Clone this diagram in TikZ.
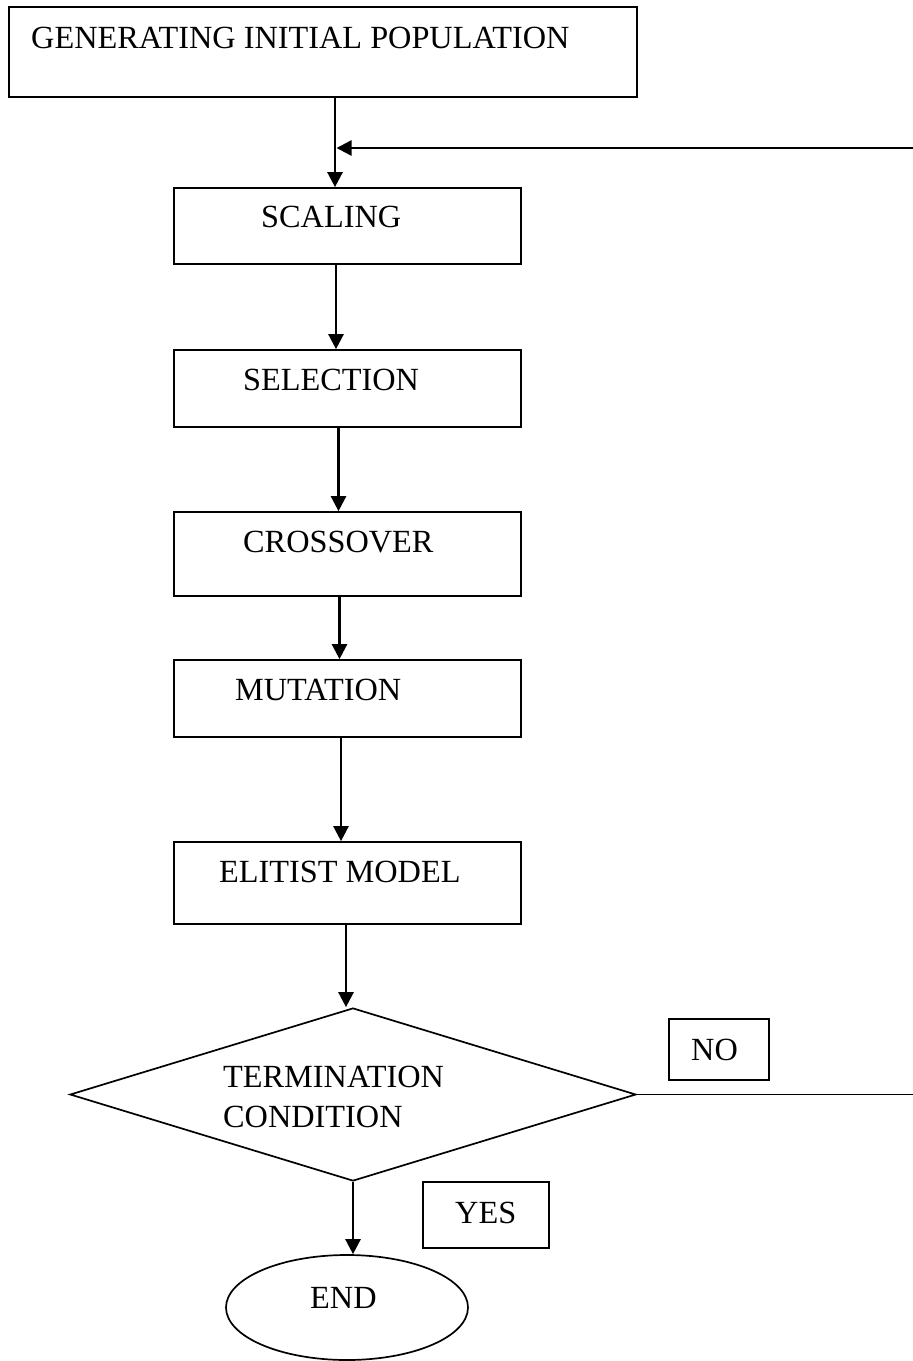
\documentclass[tikz,border=0pt]{standalone}
\usepackage{fontspec}
\setmainfont{Liberation Serif}
\usetikzlibrary{shapes.geometric,arrows.meta}
\begin{document}
\begin{tikzpicture}[x=1pt,y=-1pt,
  box/.style={draw,line width=1.7pt,inner sep=0pt,rectangle},
  lab/.style={anchor=base west,inner sep=0pt,font=\fontsize{32.3}{38}\selectfont},
  arr/.style={line width=2.5pt,-{Triangle[length=15pt,width=15pt]}},
  ln/.style={line width=1.8pt}]
\useasboundingbox[fill=white] (0,0) rectangle (913,1361);

% boxes
\node[box,minimum width=628pt,minimum height=90pt] (gen) at (323,52) {};
\node[box,minimum width=347pt,minimum height=76pt] (scaling) at (347.5,226) {};
\node[box,minimum width=347pt,minimum height=77pt] (selection) at (347.5,388.5) {};
\node[box,minimum width=347pt,minimum height=84pt] (crossover) at (347.5,554) {};
\node[box,minimum width=347pt,minimum height=77pt] (mutation) at (347.5,698.5) {};
\node[box,minimum width=347pt,minimum height=82pt] (elitist) at (347.5,883) {};
\node[draw,line width=1.7pt,diamond,inner sep=0pt,minimum width=566pt,minimum height=173pt] (term) at (353,1094.5) {};
\node[box,minimum width=100pt,minimum height=61pt] (no) at (719,1049.5) {};
\node[box,minimum width=126pt,minimum height=66pt] (yes) at (486,1215) {};
\node[draw,line width=1.7pt,ellipse,inner sep=0pt,minimum width=242pt,minimum height=105pt] (end) at (347,1307.5) {};

% labels
\node[lab] (tgen) at (31,48) {GENERATING INITIAL POPULATION};
\node[lab] (tscaling) at (261,227) {SCALING};
\node[lab] (tselection) at (243,390) {SELECTION};
\node[lab] (tcrossover) at (243,552) {CROSSOVER};
\node[lab] (tmutation) at (235,700) {MUTATION};
\node[lab] (telitist) at (219,882) {ELITIST MODEL};
\node[lab] (tterm1) at (223,1087) {TERMINATION};
\node[lab] (tterm2) at (223,1127) {CONDITION};
\node[lab] (tno) at (691,1060) {NO};
\node[lab] (tyes) at (455,1223) {YES};
\node[lab] (tend) at (310,1308) {END};

% connectors
\coordinate (fbstart) at (913,148);
\coordinate (noend) at (913,1094.5);
\draw[arr] (gen.south -| 335,0) -- (scaling.north -| 335,0);
\draw[arr] (fbstart) -- (336.5,148);
\draw[arr] (scaling.south -| 336,0) -- (selection.north -| 336,0);
\draw[arr] (selection.south -| 338.5,0) -- (crossover.north -| 338.5,0);
\draw[arr] (crossover.south -| 339.5,0) -- (mutation.north -| 339.5,0);
\draw[arr] (mutation.south -| 341,0) -- (elitist.north -| 341,0);
\draw[arr] (elitist.south -| 346,0) -- (term.north -| 346,0);
\draw[arr] (term.south) -- (end.north -| term.south);
\draw[ln] (term.east) -- (noend);
\end{tikzpicture}
\end{document}
